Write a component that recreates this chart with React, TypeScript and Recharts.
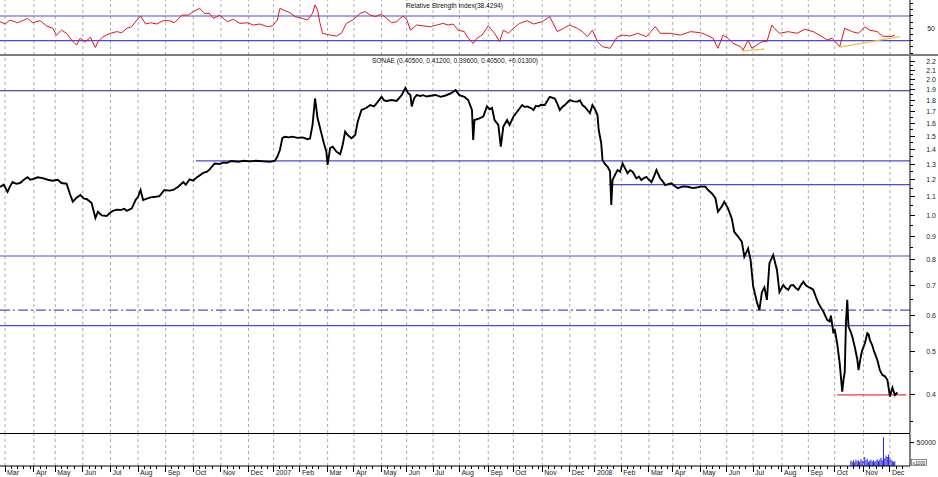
import React from "react";
import { LineChart, Line, BarChart, Bar, XAxis, YAxis, ReferenceLine } from "recharts";

// ---- x axis (trading-day index) ----
const monthStarts = [4, 27, 44, 66, 88, 110, 132, 154, 176, 198, 218, 239, 261, 282, 304, 324, 345, 366, 389, 409, 432, 454, 474, 495, 517, 536, 558, 579, 600, 623, 644, 665, 688, 709];
const monthLabels = ["Mar", "Apr", "May", "Jun", "Jul", "Aug", "Sep", "Oct", "Nov", "Dec", "2007", "Feb", "Mar", "Apr", "May", "Jun", "Jul", "Aug", "Sep", "Oct", "Nov", "Dec", "2008", "Feb", "Mar", "Apr", "May", "Jun", "Jul", "Aug", "Sep", "Oct", "Nov", "Dec"];
const dayDomain = [0, 725];

// ---- SONAE price ----
const priceDays = [0, 3, 6, 8, 10, 13, 16, 19, 22, 24, 26, 30, 34, 38, 42, 46, 49, 53, 56, 58, 61, 64, 67, 69, 73, 76, 78, 81, 85, 88, 90, 93, 96, 99, 101, 105, 108, 110, 112, 114, 117, 120, 124, 127, 131, 135, 138, 142, 146, 148, 151, 154, 157, 162, 165, 167, 171, 175, 178, 181, 184, 190, 194, 199, 204, 210, 215, 219, 221, 223, 225, 227, 230, 233, 237, 241, 245, 247, 249, 251, 252, 253, 255, 257, 258, 260, 261, 263, 265, 268, 271, 273, 275, 277, 280, 283, 285, 288, 292, 295, 298, 300, 304, 306, 308, 312, 316, 320, 323, 325, 327, 328, 330, 332, 335, 337, 340, 343, 347, 351, 355, 359, 363, 366, 370, 373, 376, 377, 378, 382, 385, 388, 390, 392, 394, 397, 399, 401, 404, 406, 409, 412, 416, 418, 420, 423, 425, 427, 429, 431, 434, 438, 442, 444, 446, 448, 450, 452, 454, 457, 460, 462, 464, 466, 468, 470, 472, 474, 476, 477, 479, 480, 482, 484, 486, 487, 488, 490, 492, 494, 496, 498, 500, 502, 504, 507, 509, 511, 513, 515, 517, 519, 521, 523, 526, 528, 530, 533, 535, 538, 540, 544, 548, 552, 556, 559, 562, 564, 567, 570, 572, 575, 577, 580, 583, 585, 588, 591, 593, 596, 598, 600, 603, 605, 607, 609, 611, 613, 616, 619, 621, 624, 626, 628, 630, 632, 634, 636, 638, 640, 642, 644, 646, 648, 650, 652, 654, 656, 659, 661, 662, 664, 665, 667, 669, 671, 672, 673, 674, 675, 676, 678, 679, 681, 683, 684, 686, 687, 689, 691, 692, 693, 695, 696, 699, 701, 703, 705, 707, 709, 711, 713, 715];
const priceClose = [1.156, 1.17, 1.128, 1.16, 1.186, 1.175, 1.18, 1.2, 1.216, 1.2, 1.204, 1.215, 1.21, 1.2, 1.194, 1.2, 1.18, 1.176, 1.11, 1.073, 1.095, 1.11, 1.09, 1.088, 1.066, 0.987, 1.019, 1.0, 0.997, 1.015, 1.024, 1.03, 1.028, 1.035, 1.024, 1.037, 1.082, 1.1, 1.139, 1.082, 1.09, 1.097, 1.1, 1.104, 1.139, 1.135, 1.139, 1.158, 1.186, 1.17, 1.202, 1.195, 1.216, 1.243, 1.25, 1.265, 1.304, 1.3, 1.31, 1.309, 1.32, 1.315, 1.322, 1.318, 1.322, 1.318, 1.315, 1.322, 1.351, 1.397, 1.486, 1.494, 1.49, 1.495, 1.486, 1.49, 1.476, 1.481, 1.587, 1.817, 1.728, 1.645, 1.563, 1.484, 1.448, 1.385, 1.294, 1.411, 1.421, 1.385, 1.367, 1.433, 1.534, 1.508, 1.483, 1.508, 1.614, 1.713, 1.733, 1.757, 1.745, 1.772, 1.832, 1.8, 1.794, 1.803, 1.794, 1.848, 1.918, 1.87, 1.848, 1.745, 1.82, 1.848, 1.84, 1.848, 1.835, 1.842, 1.85, 1.832, 1.845, 1.864, 1.896, 1.848, 1.832, 1.803, 1.713, 1.47, 1.628, 1.642, 1.656, 1.745, 1.72, 1.731, 1.628, 1.587, 1.421, 1.574, 1.628, 1.587, 1.656, 1.698, 1.757, 1.74, 1.745, 1.73, 1.713, 1.75, 1.745, 1.76, 1.757, 1.832, 1.817, 1.77, 1.713, 1.74, 1.757, 1.78, 1.803, 1.79, 1.788, 1.8, 1.757, 1.74, 1.713, 1.685, 1.757, 1.72, 1.67, 1.547, 1.446, 1.327, 1.3, 1.284, 1.253, 1.055, 1.198, 1.23, 1.261, 1.25, 1.304, 1.272, 1.24, 1.26, 1.25, 1.208, 1.22, 1.198, 1.21, 1.218, 1.2, 1.186, 1.22, 1.261, 1.208, 1.19, 1.168, 1.175, 1.178, 1.16, 1.149, 1.16, 1.158, 1.15, 1.155, 1.16, 1.158, 1.139, 1.12, 1.092, 1.019, 1.046, 1.073, 1.037, 0.985, 0.92, 0.898, 0.875, 0.81, 0.845, 0.797, 0.698, 0.643, 0.617, 0.676, 0.693, 0.65, 0.784, 0.817, 0.757, 0.676, 0.701, 0.69, 0.684, 0.7, 0.701, 0.69, 0.684, 0.7, 0.713, 0.7, 0.694, 0.69, 0.684, 0.66, 0.639, 0.625, 0.612, 0.587, 0.582, 0.6, 0.548, 0.56, 0.52, 0.47, 0.407, 0.432, 0.45, 0.58, 0.65, 0.567, 0.55, 0.539, 0.511, 0.48, 0.454, 0.49, 0.503, 0.52, 0.548, 0.545, 0.53, 0.515, 0.503, 0.478, 0.454, 0.443, 0.44, 0.432, 0.397, 0.415, 0.4, 0.405];

// ---- RSI ----
const rsiDays = [0, 4, 8, 14, 18, 22, 26, 32, 37, 42, 45, 49, 53, 57, 61, 64, 68, 72, 76, 78, 82, 88, 93, 97, 101, 105, 109, 112, 116, 120, 125, 130, 135, 139, 145, 150, 154, 159, 163, 167, 170, 175, 181, 186, 191, 197, 202, 207, 213, 217, 221, 223, 227, 231, 235, 241, 245, 249, 251, 253, 255, 257, 263, 268, 272, 276, 281, 287, 291, 295, 299, 304, 308, 312, 316, 321, 324, 327, 332, 337, 343, 348, 353, 357, 361, 365, 370, 373, 377, 380, 384, 389, 394, 398, 401, 405, 409, 414, 420, 425, 432, 438, 444, 449, 454, 460, 464, 468, 472, 476, 480, 486, 492, 496, 502, 508, 515, 522, 526, 534, 542, 550, 558, 563, 568, 572, 576, 580, 584, 590, 592, 596, 599, 603, 607, 611, 615, 617, 621, 628, 635, 641, 648, 655, 659, 663, 669, 673, 679, 684, 689, 693, 699, 703, 709, 713];
const rsiValues = [60.8, 57, 63.5, 59, 62.4, 66, 59, 62.4, 54, 50, 39, 47, 42, 31, 23, 34, 28, 35.5, 19, 28, 36.5, 42, 44.6, 43, 50, 52.7, 63.5, 70, 57, 59, 57, 62.4, 62.4, 59, 71.5, 71.5, 77, 82.4, 74.3, 74.3, 66, 71.5, 60.8, 64.6, 58, 59, 55.4, 57, 52.7, 54, 63.5, 82.4, 78.6, 75.4, 69, 66, 63.5, 74.3, 87.8, 79.7, 58, 42, 39, 37.5, 42, 58, 63.5, 74.3, 77, 71.5, 69, 73, 66, 59, 60.8, 70, 64.6, 47, 55.4, 54, 52.7, 55.4, 58, 55.4, 57, 47, 44.6, 34, 25.7, 34, 39, 54, 42, 28.4, 47, 42, 50, 58, 62.4, 57, 60.8, 69, 44.6, 50, 55.4, 50, 44.6, 36.5, 47, 28.4, 20.3, 17.6, 36.5, 39, 37.5, 42, 36.5, 52.7, 42, 42, 39, 44.6, 43, 39, 34, 17.6, 39, 34, 25.7, 20.3, 14.8, 31, 17.6, 23, 28.4, 28.4, 55.4, 50, 42, 44.6, 42, 48.4, 44.6, 36.5, 31, 34, 20.3, 50, 44.6, 42, 52.7, 47, 44.6, 37.5, 36.5, 38.4];
const rsiBands = [70, 30];
const rsiTrendA = [[591, 13.2], [609, 16.5]];
const rsiTrendB = [[669, 19.6], [717, 36.5]];

// ---- volume (x1000) ----
const volumeDays = [678, 679, 680, 681, 682, 683, 684, 685, 686, 687, 688, 689, 690, 691, 692, 693, 694, 695, 696, 697, 698, 699, 700, 701, 702, 703, 704, 705, 706, 707, 708, 709, 710, 711, 712, 713];
const volumeValues = [11000, 9000, 12000, 8000, 13000, 10000, 12000, 9000, 14000, 11000, 10000, 19000, 12000, 15000, 9000, 11000, 13000, 10000, 12000, 9000, 11000, 14000, 10000, 13000, 17000, 12000, 60000, 16000, 22000, 19000, 24000, 18000, 13000, 11000, 9000, 10000];

// ---- price reference levels ----
const levelValues = [1.89, 1.322, 1.17, 0.813, 0.57];
const levelStartDays = [0, 156, 485, 0, 0];
const dashLevel = 0.617;
const supportLevel = 0.4;
const supportDays = [667, 722];

const priceLabels = [0.4, 0.5, 0.6, 0.7, 0.8, 0.9, 1.0, 1.1, 1.2, 1.3, 1.4, 1.5, 1.6, 1.7, 1.8, 1.9, 2.0, 2.1, 2.2];
const rsiTicks = [10, 20, 30, 40, 50, 60, 70, 80, 90];
const volumeTicks = [50000];

// ---- tables ----
const priceData = priceDays.map((d, i) => ({ d, p: priceClose[i] }));
const rsiData = rsiDays.map((d, i) => ({ d, r: rsiValues[i] }));
const volumeData = volumeDays.map((d, i) => ({ d, v: volumeValues[i] }));

const priceTicks: number[] = [];
priceLabels.forEach((v) => {
  priceTicks.push(+(v - 0.05).toFixed(2));
  priceTicks.push(v);
});

const xTicks: number[] = [];
monthStarts.forEach((m, i) => {
  xTicks.push(m);
  const next = i + 1 < monthStarts.length ? monthStarts[i + 1] : 725;
  for (let t = m + 5; t < next - 2; t += 5) xTicks.push(t);
});

const W = 938;
const AXIS_X = 910;
const FONT = "'Liberation Sans', Arial, sans-serif";
const GRID = "#ababab";
const BLUE = "#4a4ae4";

const PriceTick = (props: any) => {
  const { y, payload } = props;
  const v = payload.value as number;
  const major = priceLabels.some((l) => Math.abs(l - v) < 1e-6);
  return (
    <g>
      <line x1={AXIS_X} x2={AXIS_X + (major ? 5 : 3)} y1={y} y2={y} stroke="#000" shapeRendering="crispEdges" />
      {major && (
        <text x={936} y={y + 2.5} textAnchor="end" fontSize={7} fill="#222" fontFamily={FONT}>
          {v.toFixed(1)}
        </text>
      )}
    </g>
  );
};

const RsiTick = (props: any) => {
  const { y, payload } = props;
  return (
    <g>
      <line x1={AXIS_X} x2={AXIS_X + 3} y1={y} y2={y} stroke="#000" shapeRendering="crispEdges" />
      {payload.value === 50 && (
        <text x={935} y={y + 2.5} textAnchor="end" fontSize={7} fill="#222" fontFamily={FONT}>
          50
        </text>
      )}
    </g>
  );
};

const VolTick = (props: any) => {
  const { y, payload } = props;
  return (
    <g>
      <line x1={AXIS_X} x2={AXIS_X + 4} y1={y} y2={y} stroke="#000" shapeRendering="crispEdges" />
      <text x={936} y={y + 2.5} textAnchor="end" fontSize={7} fill="#222" fontFamily={FONT}>
        {payload.value}
      </text>
    </g>
  );
};

const XTick = (props: any) => {
  const { x, payload } = props;
  const y0 = 32;
  const idx = monthStarts.indexOf(payload.value);
  if (idx >= 0) {
    return (
      <g>
        <line x1={x} x2={x} y1={y0} y2={y0 + 6} stroke="#000" shapeRendering="crispEdges" />
        <text x={x + 2} y={y0 + 9} fontSize={7} fill="#222" fontFamily={FONT}>
          {monthLabels[idx]}
        </text>
      </g>
    );
  }
  return <line x1={x} x2={x} y1={y0} y2={y0 + 2.5} stroke="#000" shapeRendering="crispEdges" />;
};

const gridLines = (prefix: string) =>
  monthStarts.map((m) => (
    <ReferenceLine key={prefix + m} x={m} stroke={GRID} strokeDasharray="3 3" ifOverflow="hidden" />
  ));

export default function App() {
  return (
    <div style={{ position: "absolute", left: 0, top: 0, width: W, height: 477, background: "#fff", overflow: "hidden" }}>
      {/* RSI panel */}
      <div style={{ position: "absolute", left: 0, top: 0 }}>
        <LineChart width={W} height={55} data={rsiData} margin={{ top: 0, right: 0, bottom: 0, left: 0 }}>
          <XAxis type="number" dataKey="d" domain={dayDomain} hide allowDataOverflow />
          <YAxis
            orientation="right"
            width={28}
            domain={[6.8, 95.9]}
            ticks={rsiTicks}
            interval={0}
            tick={RsiTick}
            tickLine={false}
            axisLine={{ stroke: "#000" }}
            allowDataOverflow
          />
          {gridLines("r")}
          {rsiBands.map((b) => (
            <ReferenceLine key={"b" + b} y={b} stroke={BLUE} strokeWidth={1.2} />
          ))}
          <Line type="linear" dataKey="r" stroke="#e4141e" strokeWidth={1} dot={false} activeDot={false} isAnimationActive={false} />
          <ReferenceLine
            segment={[{ x: rsiTrendA[0][0], y: rsiTrendA[0][1] }, { x: rsiTrendA[1][0], y: rsiTrendA[1][1] }]}
            stroke="#f2c03c"
            strokeWidth={1.3}
          />
          <ReferenceLine
            segment={[{ x: rsiTrendB[0][0], y: rsiTrendB[0][1] }, { x: rsiTrendB[1][0], y: rsiTrendB[1][1] }]}
            stroke="#f2c03c"
            strokeWidth={1.3}
          />
        </LineChart>
      </div>

      {/* Price panel */}
      <div style={{ position: "absolute", left: 0, top: 55 }}>
        <LineChart width={W} height={378} data={priceData} margin={{ top: 0, right: 0, bottom: 0, left: 0 }}>
          <XAxis type="number" dataKey="d" domain={dayDomain} hide allowDataOverflow />
          <YAxis
            orientation="right"
            width={28}
            scale="log"
            domain={[0.3294, 2.2685]}
            ticks={priceTicks}
            interval={0}
            tick={PriceTick}
            tickLine={false}
            axisLine={{ stroke: "#000" }}
            allowDataOverflow
          />
          {gridLines("p")}
          {levelValues.map((lv, i) => (
            <ReferenceLine
              key={"l" + i}
              segment={[{ x: levelStartDays[i], y: lv }, { x: dayDomain[1], y: lv }]}
              stroke={i === 0 ? "#1e1e86" : BLUE}
              strokeWidth={1.2}
            />
          ))}
          <ReferenceLine y={dashLevel} stroke="#5252c8" strokeWidth={1.2} strokeDasharray="10 3 2 3" />
          <ReferenceLine
            segment={[{ x: supportDays[0], y: supportLevel }, { x: supportDays[1], y: supportLevel }]}
            stroke="#e83a3a"
            strokeWidth={1.2}
          />
          <Line type="linear" dataKey="p" stroke="#000" strokeWidth={1.9} dot={false} activeDot={false} isAnimationActive={false} />
        </LineChart>
      </div>

      {/* Volume panel + date axis */}
      <div style={{ position: "absolute", left: 0, top: 434 }}>
        <BarChart width={W} height={43} data={volumeData} margin={{ top: 0, right: 0, bottom: 0, left: 0 }}>
          <XAxis
            type="number"
            dataKey="d"
            domain={dayDomain}
            ticks={xTicks}
            interval={0}
            tick={XTick}
            tickLine={false}
            axisLine={{ stroke: "#000" }}
            height={11}
            allowDataOverflow
          />
          <YAxis
            orientation="right"
            width={28}
            domain={[0, 66667]}
            ticks={volumeTicks}
            interval={0}
            tick={VolTick}
            tickLine={false}
            axisLine={{ stroke: "#000" }}
            allowDataOverflow
          />
          {gridLines("v")}
          <Bar dataKey="v" fill="#2424dc" barSize={1} activeBar={false} isAnimationActive={false} />
        </BarChart>
      </div>

      {/* titles & panel separators */}
      <svg width={W} height={477} style={{ position: "absolute", left: 0, top: 0, pointerEvents: "none" }}>
        <rect x={0} y={54} width={W} height={2} fill="#7c7c7c" />
        <rect x={0} y={433} width={AXIS_X} height={1} fill="#000" />
        <text x={406} y={7.5} fontSize={7} fill="#111" fontFamily={FONT} textLength={97} lengthAdjust="spacingAndGlyphs">
          Relative Strength Index(38.4294)
        </text>
        <text x={372} y={62.5} fontSize={7} fill="#111" fontFamily={FONT} textLength={166} lengthAdjust="spacingAndGlyphs">
          SONAE (0.40500, 0.41200, 0.39600, 0.40500, +0.01300)
        </text>
        <rect x={911.5} y={459.5} width={15} height={6} fill="#fff" stroke="#444" strokeWidth={0.6} />
        <text x={912.5} y={464.5} fontSize={5} fill="#111" fontFamily={FONT} textLength={13} lengthAdjust="spacingAndGlyphs">
          x1000
        </text>
      </svg>
    </div>
  );
}
